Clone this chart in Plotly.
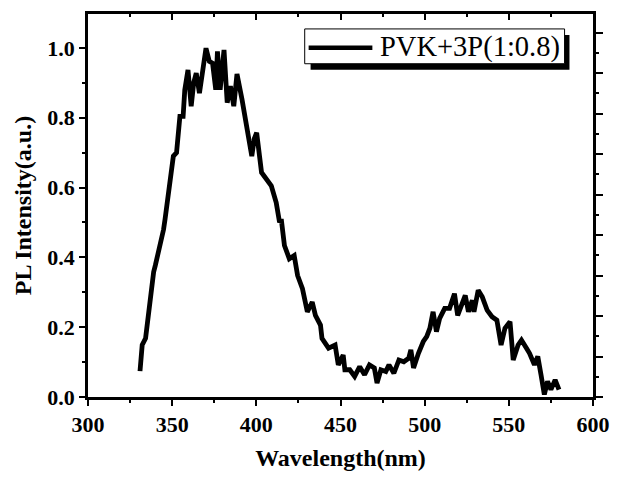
import plotly.graph_objects as go

# PL spectrum
wavelength = [
    330.9, 331.5, 332.2, 334.2, 335.5, 337.1, 339.0, 340.0, 341.9, 343.9,
    344.9, 345.8, 347.8, 348.8, 350.7, 352.6, 353.6, 354.6, 356.5, 357.5,
    359.4, 361.3, 362.8, 364.3, 366.2, 368.2, 370.1, 372.1, 374.0, 375.9,
    376.9, 378.5, 380.8, 382.7, 384.6, 386.6, 388.5, 391.5, 394.4, 397.3,
    398.8, 400.2, 403.1, 406.0, 408.9, 411.8, 413.8, 414.8, 416.7, 419.6,
    422.5, 424.5, 427.4, 430.3, 433.2, 435.1, 438.1, 439.0, 442.9, 446.8,
    448.7, 451.6, 452.6, 455.5, 458.4, 461.4, 464.3, 467.2, 470.1, 471.7,
    474.0, 476.9, 478.8, 481.7, 484.7, 487.6, 490.5, 491.8, 493.4, 496.3,
    499.2, 501.2, 503.1, 505.0, 507.0, 508.9, 511.9, 514.8, 517.7, 519.6,
    521.5, 524.1, 526.0, 528.3, 529.3, 531.8, 534.2, 537.1, 540.0, 542.9,
    545.4, 547.7, 550.7, 552.6, 555.5, 557.5, 560.4, 562.3, 565.2, 567.2,
    569.1, 571.1, 573.0, 575.0, 577.5, 579.8,
]
intensity = [
    0.074, 0.110, 0.149, 0.168, 0.220, 0.290, 0.358, 0.377, 0.415, 0.453,
    0.480, 0.510, 0.587, 0.643, 0.690, 0.700, 0.776, 0.804, 0.804, 0.880,
    0.937, 0.833, 0.900, 0.928, 0.870, 0.947, 0.999, 0.961, 0.956, 0.880,
    0.990, 0.880, 0.994, 0.843, 0.890, 0.833, 0.925, 0.852, 0.776, 0.690,
    0.740, 0.757, 0.643, 0.624, 0.605, 0.557, 0.500, 0.510, 0.434, 0.396,
    0.405, 0.348, 0.310, 0.244, 0.272, 0.234, 0.206, 0.168, 0.140, 0.149,
    0.092, 0.120, 0.078, 0.078, 0.059, 0.087, 0.064, 0.092, 0.083, 0.040,
    0.078, 0.073, 0.092, 0.068, 0.106, 0.101, 0.111, 0.135, 0.083, 0.125,
    0.159, 0.173, 0.197, 0.244, 0.187, 0.225, 0.254, 0.254, 0.296, 0.234,
    0.258, 0.291, 0.244, 0.277, 0.244, 0.306, 0.287, 0.249, 0.230, 0.220,
    0.149, 0.197, 0.216, 0.106, 0.149, 0.163, 0.140, 0.125, 0.092, 0.116,
    0.064, 0.007, 0.045, 0.021, 0.049, 0.021,
]
series_name = "PVK+3P(1:0.8)"
x_ticks = [300, 350, 400, 450, 500, 550, 600]
y_ticks = [0.0, 0.2, 0.4, 0.6, 0.8, 1.0]

FONT = "Liberation Serif"
W, H = 622, 480
L, R, T, B = 88, 19, 14, 81
PW, PH = W - L - R, H - T - B


def px(xp):
    return (xp - L) / PW


def py(yp):
    return (H - B - yp) / PH


fig = go.Figure()
fig.add_trace(go.Scatter(
    x=wavelength, y=intensity, mode="lines", name=series_name,
    line=dict(color="black", width=4.8), showlegend=False,
))
# helper trace so the mirrored (top / right) axes get drawn
fig.add_trace(go.Scatter(
    x=wavelength, y=intensity, xaxis="x2", yaxis="y2", mode="lines",
    line=dict(color="rgba(0,0,0,0)", width=0), showlegend=False, hoverinfo="skip",
))

tickfont = dict(family=FONT, size=22, color="black", weight="bold")
titlefont = dict(family=FONT, size=24, color="black", weight="bold")

fig.update_layout(
    width=W, height=H, margin=dict(l=L, r=R, t=T, b=B),
    paper_bgcolor="white", plot_bgcolor="white",
    xaxis=dict(
        range=[300, 600], tickvals=x_ticks, ticks="outside", ticklen=6, tickwidth=2,
        tickcolor="black", showline=True, linecolor="black", linewidth=2.5,
        showgrid=False, zeroline=False, tickfont=tickfont,
        minor=dict(dtick=25, ticks="outside", ticklen=3, tickwidth=2, tickcolor="black"),
        title=dict(text="Wavelength(nm)", font=titlefont, standoff=14),
    ),
    yaxis=dict(
        range=[0, 1.097], tickvals=y_ticks, tickformat=".1f", ticks="outside",
        ticklen=6, tickwidth=2, tickcolor="black", showline=True, linecolor="black",
        linewidth=2.5, showgrid=False, zeroline=False, tickfont=tickfont,
        minor=dict(dtick=0.1, ticks="outside", ticklen=3, tickwidth=2, tickcolor="black"),
        title=dict(text="PL Intensity(a.u.)", font=titlefont, standoff=9),
    ),
    xaxis2=dict(
        overlaying="x", side="top", range=[300, 600], dtick=50, ticks="inside",
        ticklen=6, tickwidth=2, tickcolor="black", showticklabels=False,
        showline=True, linecolor="black", linewidth=2.5, showgrid=False, zeroline=False,
        minor=dict(dtick=25, ticks="inside", ticklen=3, tickwidth=2, tickcolor="black"),
    ),
    yaxis2=dict(
        overlaying="y", side="right", range=[0, 9.46], dtick=1, ticks="outside",
        ticklen=7, tickwidth=2, tickcolor="black", showticklabels=False,
        showline=True, linecolor="black", linewidth=2.5, showgrid=False, zeroline=False,
        minor=dict(dtick=0.5, ticks="outside", ticklen=3, tickwidth=2, tickcolor="black"),
    ),
)

# legend box drawn by hand (with drop shadow, as in the reference)
box = dict(x0=309, x1=574, y0=29, y1=64)
fig.add_shape(type="rect", xref="paper", yref="paper",
              x0=px(box["x0"] + 6), x1=px(box["x1"] + 5),
              y0=py(box["y1"] + 6), y1=py(box["y0"] + 6),
              fillcolor="black", line=dict(width=0), layer="above")
fig.add_shape(type="rect", xref="paper", yref="paper",
              x0=px(box["x0"]), x1=px(box["x1"]), y0=py(box["y1"]), y1=py(box["y0"]),
              fillcolor="white", line=dict(color="black", width=1), layer="above")
fig.add_shape(type="line", xref="paper", yref="paper",
              x0=px(313), x1=px(378), y0=py(48), y1=py(48),
              line=dict(color="black", width=4.5), layer="above")
fig.add_annotation(xref="paper", yref="paper", x=px(384), y=py(47),
                   xanchor="left", yanchor="middle", text=series_name, showarrow=False,
                   font=dict(family=FONT, size=28.5, color="black"))

fig.write_html("out.html")
